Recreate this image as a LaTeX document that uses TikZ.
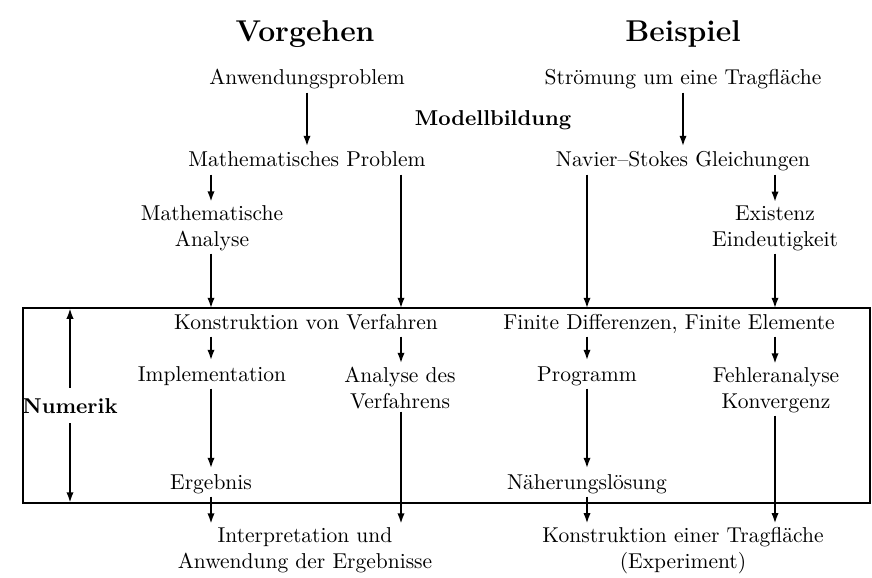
\documentclass[tikz,border=0pt]{standalone}
\usetikzlibrary{arrows.meta}
\begin{document}
\begin{tikzpicture}[x=0.4651pt,y=-0.4651pt,
  txt/.style={anchor=base, inner xsep=2pt, inner ysep=1.3pt, text height=8pt, text depth=2pt},
  mtxt/.style={anchor=base, align=center, inner xsep=2pt, inner ysep=1.3pt},
  head/.style={anchor=base, font=\fontsize{14}{17}\selectfont\bfseries},
  arr/.style={line width=1.05pt, -{Latex[length=5pt,width=3.4pt]}},
  frame/.style={line width=1.05pt}]
\useasboundingbox (0,0) rectangle (872,577);
% column positions and frame corners
\coordinate (c1) at (211,0);
\coordinate (c2) at (401,0);
\coordinate (c3) at (587,0);
\coordinate (c4) at (775,0);
\coordinate (bt) at (23,308);
\coordinate (bb) at (870,503);
\draw[frame] (bt) rectangle (bb);
% headings
\node[head] (vg) at (305,42) {Vorgehen};
\node[head] (bs) at (683,42) {Beispiel};
% nodes (multi-line nodes are placed at the baseline of their last line)
\node[txt] (ap) at (307,85) {Anwendungsproblem};
\node[txt] (st) at (683,85) {Strömung um eine Tragfläche};
\node[txt, font=\bfseries] (mb) at (493,126) {Modellbildung};
\node[txt] (mp) at (307,167) {Mathematisches Problem};
\node[txt] (ns) at (683,167) {Navier--Stokes Gleichungen};
\node[mtxt] (ma) at (212,246) {Mathematische\\Analyse};
\node[mtxt] (ee) at (775,246) {Existenz\\Eindeutigkeit};
\node[txt] (kv) at (306,329) {Konstruktion von Verfahren};
\node[txt] (fd) at (669,329) {Finite Differenzen, Finite Elemente};
\node[txt] (im) at (212,381) {Implementation};
\node[mtxt] (av) at (400,408) {Analyse des\\Verfahrens};
\node[txt] (pg) at (587,381) {Programm};
\node[mtxt] (fk) at (776,408) {Fehleranalyse\\Konvergenz};
\node[txt] (eg) at (211,489) {Ergebnis};
\node[txt] (nl) at (587,489) {Näherungslösung};
\node[mtxt] (ia) at (305,568) {Interpretation und\\Anwendung der Ergebnisse};
\node[mtxt] (kt) at (683,568) {Konstruktion einer Tragfläche\\(Experiment)};
\node[anchor=base, font=\bfseries, inner xsep=0pt, inner ysep=4.6pt] (nu) at (70,413) {Numerik};
% Numerik double arrow
\draw[arr] (nu.north) -- (nu.north |- bt);
\draw[arr] (nu.south) -- (nu.south |- bb);
% connectors
\draw[arr] (ap.south) -- (mp.north);
\draw[arr] (st.south) -- (ns.north);
\draw[arr] (mp.south -| c1) -- (ma.north -| c1);
\draw[arr] (ns.south -| c4) -- (ee.north -| c4);
\draw[arr] (ma.south -| c1) -- (kv.north -| c1);
\draw[arr] (mp.south -| c2) -- (kv.north -| c2);
\draw[arr] (ns.south -| c3) -- (fd.north -| c3);
\draw[arr] (ee.south -| c4) -- (fd.north -| c4);
\draw[arr] (kv.south -| c1) -- (im.north -| c1);
\draw[arr] (kv.south -| c2) -- (av.north -| c2);
\draw[arr] (fd.south -| c3) -- (pg.north -| c3);
\draw[arr] (fd.south -| c4) -- (fk.north -| c4);
\draw[arr] (im.south -| c1) -- (eg.north -| c1);
\draw[arr] (pg.south -| c3) -- (nl.north -| c3);
\draw[arr] (av.south -| c2) -- (ia.north -| c2);
\draw[arr] (fk.south -| c4) -- (kt.north -| c4);
\draw[arr] (eg.south -| c1) -- (ia.north -| c1);
\draw[arr] (nl.south -| c3) -- (kt.north -| c3);
\end{tikzpicture}
\end{document}
